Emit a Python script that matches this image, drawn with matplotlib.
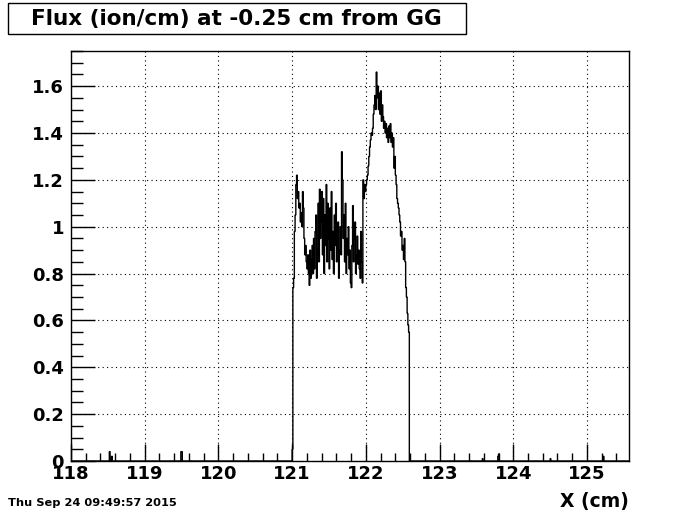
import numpy as np
import matplotlib
matplotlib.use("Agg")
import matplotlib.pyplot as plt
from matplotlib.patches import Rectangle
from matplotlib.ticker import MultipleLocator

# Histogram contents, bins of 0.01 cm from 121.00 to 122.60
bin_start = 121.00
bin_width = 0.01
flux = [
    0.05, 0.74, 0.78, 0.98, 1.05, 1.18, 1.22, 1.12, 1.15, 1.08,
    1.10, 1.02, 1.06, 1.00, 1.15, 1.08, 0.95, 0.88, 0.92, 0.85,
    0.82, 0.88, 0.80, 0.75, 0.90, 0.78, 0.86, 0.92, 0.80, 0.95,
    0.82, 0.98, 1.05, 0.78, 0.90, 1.10, 0.85, 1.16, 0.95, 1.02,
    1.15, 0.88, 1.12, 0.80, 1.05, 0.92, 1.18, 0.85, 1.10, 0.95,
    0.82, 1.08, 0.90, 1.15, 0.86, 0.98, 0.80, 1.05, 0.92, 1.10,
    0.85, 0.95, 1.02, 0.78, 0.90, 1.00, 0.88, 1.32, 1.20, 0.95,
    1.05, 0.85, 1.10, 0.80, 0.95, 0.88, 1.00, 0.82, 0.90, 0.76,
    0.74, 0.92, 1.09, 0.85, 0.95, 1.02, 0.80, 0.88, 0.96, 0.84,
    0.90, 0.82, 0.78, 0.98, 0.85, 0.76, 1.20, 1.12, 1.18, 1.15,
    1.18, 1.20, 1.22, 1.26, 1.30, 1.34, 1.37, 1.40, 1.39, 1.42,
    1.48, 1.52, 1.56, 1.50, 1.66, 1.55, 1.60, 1.50, 1.57, 1.48,
    1.58, 1.45, 1.52, 1.47, 1.42, 1.45, 1.40, 1.44, 1.38, 1.42,
    1.36, 1.43, 1.38, 1.44, 1.36, 1.40, 1.34, 1.38, 1.25, 1.30,
    1.22, 1.18, 1.12, 1.10, 1.08, 1.05, 1.02, 0.96, 0.98, 0.90,
    0.92, 0.86, 0.95, 0.85, 0.74, 0.70, 0.63, 0.58, 0.55, 0.00,
]

# a few stray low entries outside the main band
stray_x = [118.52, 118.55, 119.49, 119.50, 123.58, 123.79, 123.80, 124.50, 125.22]
stray_y = [0.04, 0.02, 0.04, 0.04, 0.01, 0.02, 0.03, 0.01, 0.02]

x_min, x_max = 118.0, 125.57
y_min, y_max = 0.0, 1.75

title = "Flux (ion/cm) at -0.25 cm from GG"
x_label = "X (cm)"
date_text = "Thu Sep 24 09:49:57 2015"


# build full histogram over the axis range
n_bins = int(round((x_max - x_min) / bin_width))
edges = x_min + bin_width * np.arange(n_bins + 1)
counts = np.zeros(n_bins)
i0 = int(round((bin_start - x_min) / bin_width))
counts[i0:i0 + len(flux)] = flux
for sx, sy in zip(stray_x, stray_y):
    counts[int(round((sx - x_min) / bin_width))] = sy

fig = plt.figure(figsize=(7.0, 5.14), dpi=100)
ax = fig.add_axes([71 / 700, 53 / 514, 558 / 700, 410 / 514])

ax.stairs(counts, edges, color="black", linewidth=1.0)

ax.set_xlim(x_min, x_max)
ax.set_ylim(y_min, y_max)

ax.xaxis.set_major_locator(MultipleLocator(1))
ax.xaxis.set_minor_locator(MultipleLocator(0.2))
ax.yaxis.set_major_locator(MultipleLocator(0.2))
ax.yaxis.set_minor_locator(MultipleLocator(0.05))
ax.yaxis.set_major_formatter(plt.FuncFormatter(lambda v, p: f"{v:g}"))

ax.tick_params(axis="x", which="major", direction="in", length=12, width=1,
               labelsize=13, pad=3, top=False)
ax.tick_params(axis="x", which="minor", direction="in", length=6, width=1, top=False)
ax.tick_params(axis="y", which="major", direction="in", length=17, width=1,
               labelsize=13, pad=5, right=False)
ax.tick_params(axis="y", which="minor", direction="in", length=8.5, width=1, right=False)
for lab in ax.get_xticklabels() + ax.get_yticklabels():
    lab.set_fontweight("bold")

ax.grid(True, which="major", color="black", linestyle=(0, (1, 3)), linewidth=0.8)
for sp in ax.spines.values():
    sp.set_linewidth(1.0)

# title box like ROOT
fig.patches.append(Rectangle((8 / 700, 1 - 34 / 514), 458 / 700, 31 / 514,
                             transform=fig.transFigure, facecolor="white",
                             edgecolor="black", linewidth=1.0))
fig.text(236 / 700, 1 - 19 / 514, title, ha="center", va="center",
         fontsize=15.5, fontweight="bold")

fig.text(629 / 700, 1 - 502 / 514, x_label, ha="right", va="center",
         fontsize=13.5, fontweight="bold")
fig.text(8 / 700, 1 - 503 / 514, date_text, ha="left", va="center",
         fontsize=8.2, fontweight="bold")

fig.savefig("out.png", dpi=100)
